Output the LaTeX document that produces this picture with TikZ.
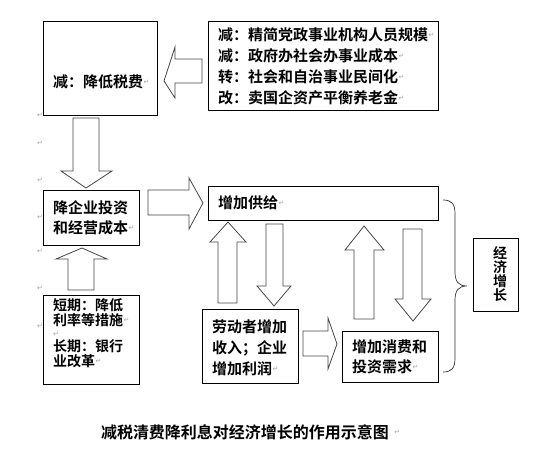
\documentclass[tikz,border=0pt]{standalone}
\usepackage{fontspec}
\newfontfamily\cjk{Noto Sans CJK SC}[BoldFont={Noto Sans CJK SC Bold}]
\newfontfamily\sym{DejaVu Sans}
\tikzset{
 box/.style={draw=black, line width=0.9pt, inner sep=0pt, anchor=north west},
 barrow/.style={draw=gray!55!black, line width=0.8pt, fill=white, line join=miter},
 txt/.style={anchor=west, inner sep=0pt, font=\cjk\bfseries\fontsize{15}{15}\selectfont},
 txts/.style={anchor=west, inner sep=0pt, font=\cjk\bfseries\fontsize{14}{14}\selectfont},
 pm/.style={anchor=west, inner sep=0pt, text=gray!70, font=\sym\fontsize{7}{7}\selectfont},
}
\begin{document}
\begin{tikzpicture}[x=1pt,y=-1pt]
\useasboundingbox (0,0) rectangle (542,460);
% boxes
\node[box, minimum width=114pt, minimum height=94pt] (A) at (43,21) {};
\node[box, minimum width=230pt, minimum height=89pt] (B) at (208,21) {};
\node[box, minimum width=96pt, minimum height=55pt] (C) at (43,190) {};
\node[box, minimum width=230pt, minimum height=34pt] (D) at (208,186) {};
\node[box, minimum width=96pt, minimum height=89pt] (F) at (43,295) {};
\node[box, minimum width=96pt, minimum height=74pt] (G) at (202,309) {};
\node[box, minimum width=96pt, minimum height=51pt] (H) at (342,331) {};
\node[box, minimum width=45pt, minimum height=73pt] (I) at (473,238) {};
% texts
\node[txt] (tA) at (53,82) {减：降低税费};
\node[pm] at (tA.east) {↵};
\node[txt] (tB1) at (218,35) {减：精简党政事业机构人员规模};
\node[txt] (tB2) at (218,56) {减：政府办社会办事业成本};
\node[txt] (tB3) at (218,77) {转：社会和自治事业民间化};
\node[txt] (tB4) at (218,98) {改：卖国企资产平衡养老金};
\foreach \n in {tB1,tB2,tB3,tB4}{\node[pm] at (\n.east) {↵};}
\node[txt] (tC1) at (53,208) {降企业投资};
\node[txt] (tC2) at (53,228) {和经营成本};
\node[pm] at (tC2.east) {↵};
\node[txt] (tD) at (218,203) {增加供给};
\node[pm] at (tD.east) {↵};
\node[txts] (tF1) at (53,305) {短期：降低};
\node[txts] (tF2) at (53,320) {利率等措施};
\node[pm] at (tF2.east) {↵};
\node[pm] at (53,334) {↵};
\node[txts] (tF3) at (53,346) {长期：银行};
\node[txts] (tF4) at (53,361) {业改革};
\node[pm] at (tF4.east) {↵};
\node[txt] (tG1) at (212,327) {劳动者增加};
\node[txt] (tG2) at (212,348) {收入；企业};
\node[txt] (tG3) at (212,369) {增加利润};
\node[pm] at (tG3.east) {↵};
\node[txt] (tH1) at (352,347) {增加消费和};
\node[txt] (tH2) at (352,367) {投资需求};
\node[pm] at (tH2.east) {↵};
\node[inner sep=0pt, align=center, font=\cjk\bfseries\fontsize{14}{14}\selectfont] (tI) at (500,274) {经\\济\\增\\长};
% margin paragraph marks
\foreach \y in {115,143,180,217,251,288,326}{\node[pm] at (37,\y) {↵};}
% block arrows
\draw[barrow] (202,59) -- (175,59) -- (175,47) -- (164,81) -- (175,98) -- (175,83) -- (202,83) -- cycle;
\draw[barrow] (73,118) -- (99,118) -- (99,171) -- (112,171) -- (86,188) -- (61,171) -- (73,171) -- cycle;
\draw[barrow] (148,190) -- (189,190) -- (189,178) -- (203,203) -- (189,229) -- (189,215) -- (148,215) -- cycle;
\draw[barrow] (68,290) -- (68,259) -- (56,259) -- (82,248) -- (107,259) -- (94,259) -- (94,290) -- cycle;
\draw[barrow] (218,303) -- (218,242) -- (210,242) -- (228,222) -- (246,242) -- (237,242) -- (237,303) -- cycle;
\draw[barrow] (266,224) -- (283,224) -- (283,286) -- (291,286) -- (274,306) -- (257,286) -- (266,286) -- cycle;
\draw[barrow] (303,331) -- (328,331) -- (328,318) -- (337,344) -- (328,369) -- (328,356) -- (303,356) -- cycle;
\draw[barrow] (354,319) -- (354,250) -- (345,250) -- (364,226) -- (384,250) -- (374,250) -- (374,319) -- cycle;
\draw[barrow] (403,229) -- (422,229) -- (422,299) -- (431,299) -- (413,321) -- (395,299) -- (403,299) -- cycle;
% brace
\draw[black!80, line width=0.7pt] (443,200) .. controls (452,200) and (455,204) .. (455,214) -- (455,272) .. controls (455,282) and (459,286) .. (467,286) .. controls (459,286) and (455,290) .. (455,300) -- (455,358) .. controls (455,368) and (452,372) .. (443,372);
% title
\node[inner sep=0pt, font=\cjk\bfseries\fontsize{16}{16}\selectfont] (T) at (245,432) {减税清费降利息对经济增长的作用示意图};
\node[pm] at ([xshift=5pt]T.east) {↵};
\end{tikzpicture}
\end{document}
